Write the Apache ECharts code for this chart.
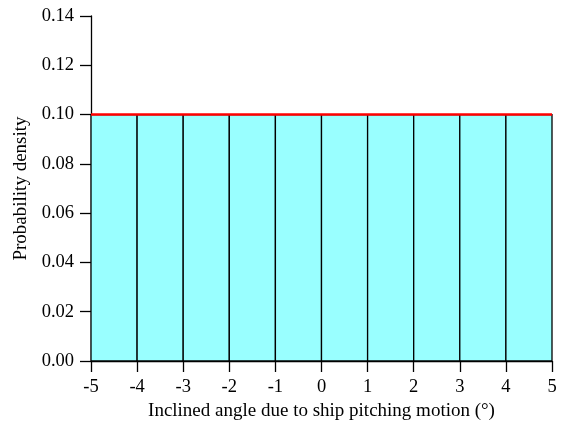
<!DOCTYPE html>
<html><head><meta charset="utf-8">
<script src="https://cdn.jsdelivr.net/npm/echarts@6/dist/echarts.min.js"></script>
<style>html,body{margin:0;padding:0;background:#fff}#c{width:561px;height:426px}</style>
</head><body><div id="c"></div>
<script>
var binStarts = [-5,-4,-3,-2,-1,0,1,2,3,4];
var binEnds   = [-4,-3,-2,-1,0,1,2,3,4,5];
var densities = [0.10,0.10,0.10,0.10,0.10,0.10,0.10,0.10,0.10,0.10];
var pdfX = [-5,5];
var pdfY = [0.10,0.10];
var xLabel = 'Inclined angle due to ship pitching motion (°)';
var yLabel = 'Probability density';

var font = 'Liberation Serif';
var histData = binStarts.map(function(s,i){return [s,binEnds[i],densities[i]];});
var chart = echarts.init(document.getElementById('c'));
chart.setOption({
  animation:false,
  grid:{left:91,right:9,top:16,bottom:65},
  xAxis:{type:'value',min:-5,max:5,interval:1,
    name:xLabel,nameLocation:'middle',nameGap:41,
    nameTextStyle:{fontFamily:font,fontSize:19,color:'#000'},
    axisLine:{show:true,onZero:false,lineStyle:{color:'#000',width:1.3}},
    axisTick:{show:true,length:11,lineStyle:{color:'#000',width:1.3}},
    axisLabel:{fontFamily:font,fontSize:18.5,color:'#000',margin:17},
    splitLine:{show:false}},
  yAxis:{type:'value',min:0,max:0.14,interval:0.02,
    name:yLabel,nameLocation:'middle',nameGap:59,
    nameTextStyle:{fontFamily:font,fontSize:19,color:'#000'},
    axisLine:{show:true,onZero:false,lineStyle:{color:'#000',width:1.3}},
    axisTick:{show:true,length:11,lineStyle:{color:'#000',width:1.3}},
    axisLabel:{fontFamily:font,fontSize:18.5,color:'#000',margin:17,
      formatter:function(v){return v.toFixed(2);}},
    splitLine:{show:false}},
  series:[
    {type:'custom',data:histData,encode:{x:[0,1],y:2},z:1,
     renderItem:function(params,api){
       var p0=api.coord([api.value(0),api.value(2)]);
       var p1=api.coord([api.value(1),0]);
       return {type:'rect',shape:{x:p0[0],y:p0[1],width:p1[0]-p0[0],height:p1[1]-p0[1]},
         style:{fill:'#99ffff',stroke:'#000',lineWidth:1.3}};
     }},
    {type:'line',data:pdfX.map(function(x,i){return [x,pdfY[i]];}),symbol:'none',
     lineStyle:{color:'#ff0000',width:2.5},z:5}
  ]
});
</script></body></html>
